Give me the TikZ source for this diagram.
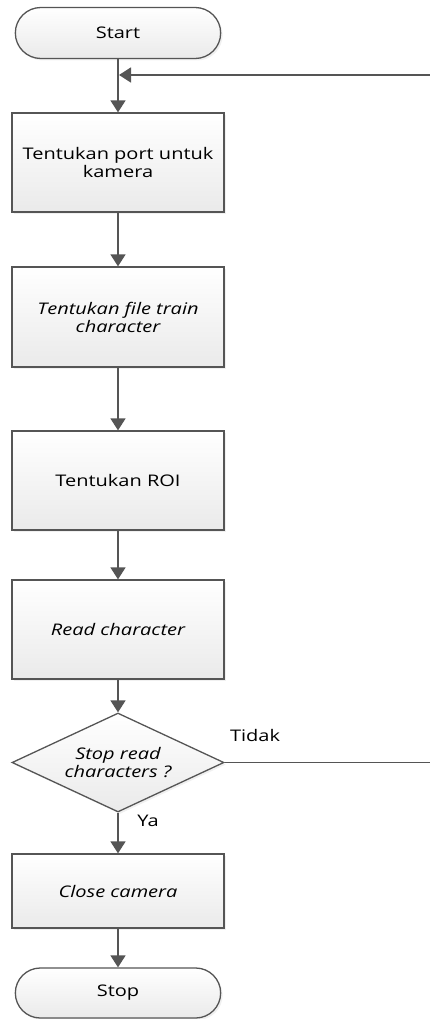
\documentclass[tikz,border=0pt]{standalone}
\usepackage{fontspec}
\setmainfont{Open Sans}[FakeStretch=1.25]
\usetikzlibrary{shapes.geometric,shapes.misc,arrows.meta,shadows}
\definecolor{linecolor}{HTML}{555555}
\definecolor{boxtop}{HTML}{FFFFFF}
\definecolor{boxbottom}{HTML}{EAEAEA}
\tikzset{
  base/.style={draw=linecolor, line width=1.3pt, align=center,
    top color=boxtop, bottom color=boxbottom,
    drop shadow={opacity=0.12, shadow xshift=2pt, shadow yshift=-2pt},
    font=\fontsize{16}{18}\selectfont},
  procbox/.style={base, rectangle, minimum width=212pt},
  termbox/.style={base, rounded rectangle, minimum width=212pt, minimum height=51pt},
  decbox/.style={base, diamond, aspect=2.14, inner sep=0pt, minimum width=212pt, minimum height=99pt},
  flow/.style={draw=linecolor, line width=1.7pt, -{Triangle[length=12pt,width=15pt]}},
  lbl/.style={font=\fontsize{16}{18}\selectfont}
}
\begin{document}
\begin{tikzpicture}[x=1pt, y={(0pt,-1pt)}]
  \useasboundingbox (0,0) rectangle (430,1019);
  % Terminators and steps
  \node[termbox] (start) at (118,33) {Start};
  \node[procbox, minimum height=99pt] (port) at (118,162.5) {Tentukan port untuk\\kamera};
  \node[procbox, minimum height=100pt] (train) at (118,317) {\itshape Tentukan file train\\\itshape character};
  \node[procbox, minimum height=99pt] (roi) at (118,480.5) {Tentukan ROI};
  \node[procbox, minimum height=99pt] (readc) at (118,629.5) {\itshape Read character};
  \node[decbox] (stopq) at (118,762.5) {\itshape Stop read\\\itshape characters ?};
  \node[procbox, minimum height=74pt] (close) at (118,891) {\itshape Close camera};
  \node[termbox, minimum height=50pt] (stop) at (118,993) {Stop};
  % Labels
  \node[lbl] (tidak) at (255,735) {Tidak};
  \node[lbl] (ya) at (148,821) {Ya};
  % Loop points
  \coordinate (join) at (119,75);
  \coordinate (loopr) at (436,762.5);
  \coordinate (loopt) at (436,75);
  % Connectors
  \draw[flow] (start) -- (port);
  \draw[flow] (port) -- (train);
  \draw[flow] (train) -- (roi);
  \draw[flow] (roi) -- (readc);
  \draw[flow] (readc) -- (stopq);
  \draw[flow] (stopq) -- (close);
  \draw[flow] (close) -- (stop);
  \draw[flow] (stopq.east) -- (loopr) -- (loopt) -- (join);
\end{tikzpicture}
\end{document}
